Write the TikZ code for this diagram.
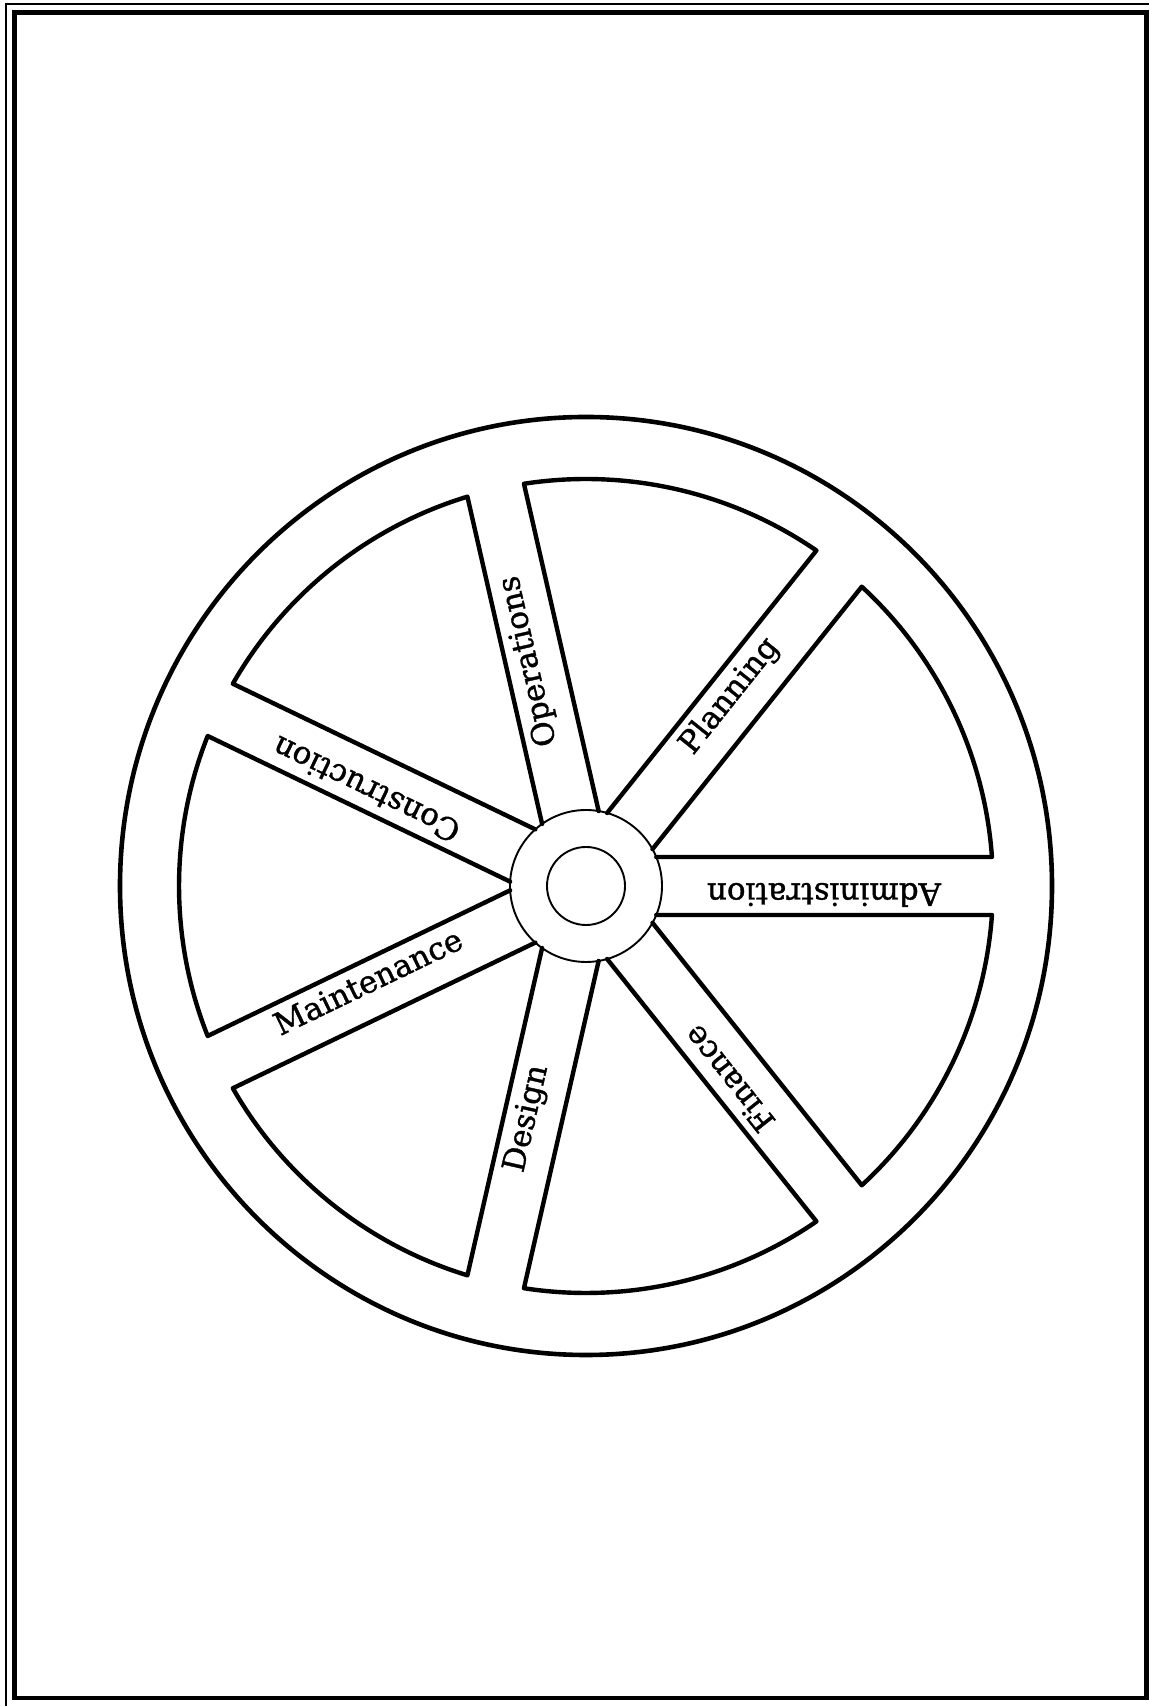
\documentclass[tikz,border=0pt]{standalone}
\usepackage{fontspec}
\setmainfont{DejaVu Serif}
\newfontfamily\wheelfont[FakeBold=1.2]{DejaVu Serif}
\usetikzlibrary{calc}
\begin{document}
\begin{tikzpicture}[x=1pt,y=1pt,
  thickline/.style={line width=4.4pt, line join=round, line cap=round},
  thinline/.style={line width=1.9pt},
  rimline/.style={line width=4.6pt},
  lbl/.style={font=\wheelfont\fontsize{31}{31}\selectfont, inner sep=0pt, anchor=center, text height=0.62em, text depth=0.1em}]
\useasboundingbox (0,0) rectangle (1149,1706);
\coordinate (c) at (586,820);
% page frame
\draw[line width=1.4pt] (6,0) -- (6,1702) -- (1149,1702);
\draw[line width=4.6pt] (14.5,8) rectangle (1146.5,1693.5);
% outer rim
\draw[rimline] (c) ellipse[x radius=466, y radius=469];
% segments between spokes
\pgfmathsetmacro{\ah}{asin(29/76)}
\pgfmathsetmacro{\ar}{asin(29/407)}
\foreach \k in {0,...,6}{
  \pgfmathsetmacro{\ta}{\k*360/7}
  \pgfmathsetmacro{\tb}{(\k+1)*360/7}
  \draw[thickline] ([shift={(\ta+\ah:76)}]c) -- ([shift={(\ta+\ar:407)}]c)
     arc[start angle=\ta+\ar, end angle=\tb-\ar, radius=407]
     -- ([shift={(\tb-\ah:76)}]c);
}
% hub
\node[circle, draw, thinline, minimum size=152pt, inner sep=0pt] (hub) at (c) {};
\node[circle, draw, thinline, minimum size=78pt, inner sep=0pt] (axle) at (c) {};
% labels
\node[lbl, rotate=180] (adm) at ([shift={(0:238)}]c) {Administration};
\node[lbl, rotate=360/7] (pla) at ([shift={(360/7:238)}]c) {Planning};
\node[lbl, rotate=2*360/7] (ope) at ([shift={(2*360/7:232)}]c) {Operations};
\node[lbl, rotate=3*360/7] (con) at ([shift={(3*360/7:240)}]c) {Construction};
\node[lbl, rotate=4*360/7-180] (mai) at ([shift={(4*360/7:238)}]c) {Maintenance};
\node[lbl, rotate=5*360/7-180] (des) at ([shift={(5*360/7:240)}]c) {Design};
\node[lbl, rotate=6*360/7-180] (fin) at ([shift={(6*360/7:240)}]c) {Finance};
\end{tikzpicture}
\end{document}
